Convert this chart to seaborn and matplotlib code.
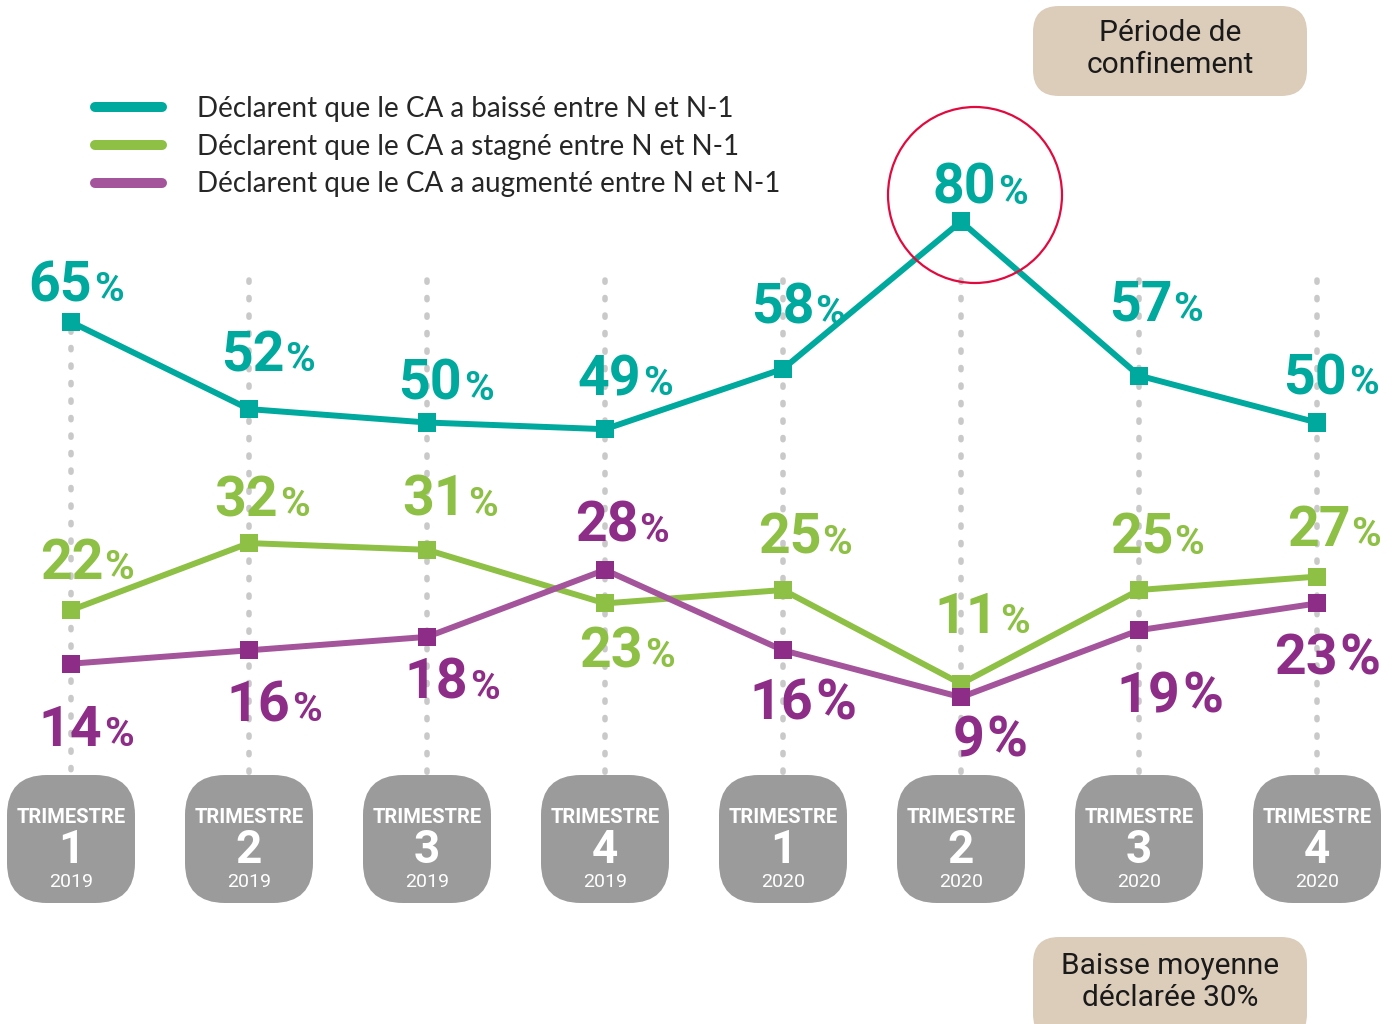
import numpy as np
import pandas as pd
import matplotlib
matplotlib.use("Agg")
import matplotlib.pyplot as plt
import seaborn as sns
from matplotlib.patches import FancyBboxPatch, Ellipse
from matplotlib.lines import Line2D
from matplotlib.offsetbox import TextArea, HPacker, AnnotationBbox

# Data
trimestres = ["1", "2", "3", "4", "1", "2", "3", "4"]
annees = ["2019", "2019", "2019", "2019", "2020", "2020", "2020", "2020"]
baisse = [65, 52, 50, 49, 58, 80, 57, 50]
stagne = [22, 32, 31, 23, 25, 11, 25, 27]
augmente = [14, 16, 18, 28, 16, 9, 19, 23]
series = ["Déclarent que le CA a baissé entre N et N-1",
          "Déclarent que le CA a stagné entre N et N-1",
          "Déclarent que le CA a augmenté entre N et N-1"]
note_haut = "Période de\nconfinement"
note_bas = "Baisse moyenne\ndéclarée 30%"

# label placement (pixels from marker: dx to label centre, dy up to baseline)
dx_baisse = [5, 19, 19, 20, 15, 19, 17, 14]
dy_baisse = [20, 37, 22, 33, 44, 17, 54, 27]
dx_stagne = [16, 13, 23, 22, 22, 21, 18, 17]
dy_stagne = [30, 26, 33, -65, 35, 50, 35, 30]
dx_augm = [15, 25, 25, 17, 20, 29, 31, 10]
dy_augm = [-83, -72, -63, 27, -70, -60, -83, -72]
big_pct_augm = [False, False, False, False, True, True, True, True]

teal = "#00A99D"
green = "#8DC044"
purple_line = "#A4549B"
purple_mark = "#8E2D87"
box_grey = "#9B9B9B"
tan = "#DCCCBA"

W, H = 1387, 1024
X0, DX = 71, 178          # pixel of first category, pixels per category
Y65, DY = 322, 6.7        # pixel of 65 %, pixels per percent


def px(x, y):
    # pixel position -> data coordinates (for layout only)
    return (x - X0) / DX, 65 - (y - Y65) / DY


sns.set_theme(style="white")
plt.rcParams['font.family'] = ['Roboto', 'DejaVu Sans']

fig = plt.figure(figsize=(W / 100, H / 100), dpi=100)
ax = fig.add_axes([0, 0, 1, 1])

df = pd.DataFrame({
    "idx": list(range(8)) * 3,
    "val": baisse + stagne + augmente,
    "serie": [s for s in series for _ in range(8)],
})

# dotted guides
for i in range(8):
    top = px(0, 330)[1] if i == 0 else px(0, 280)[1]
    ax.plot([i, i], [top, px(0, 790)[1]], color="#C9C9C9", lw=4,
            ls=(0, (0.4, 2.75)), dash_capstyle="round", zorder=1)

sns.lineplot(data=df, x="idx", y="val", hue="serie", sort=False,
             palette=dict(zip(series, [teal, green, purple_line])),
             lw=4.3, legend=False, ax=ax, zorder=3)
sns.scatterplot(data=df, x="idx", y="val", hue="serie",
                palette=dict(zip(series, [teal, green, purple_mark])),
                marker="s", s=170, linewidth=0, legend=False, ax=ax, zorder=4)


def add_label(i, val, color, dx, dy, big=False):
    num = TextArea(str(val), textprops=dict(color=color, fontsize=40, fontweight="bold"))
    pct = TextArea("%", textprops=dict(color=color, fontsize=40 if big else 29, fontweight="bold"))
    pack = HPacker(children=[num, pct], align="baseline", pad=0, sep=1)
    ab = AnnotationBbox(pack, (i, val), xybox=(dx * 0.72, (dy - 10) * 0.72),
                        xycoords="data", boxcoords="offset points",
                        box_alignment=(0.5, 0), frameon=False, pad=0, zorder=5)
    ax.add_artist(ab)


for i in range(8):
    add_label(i, baisse[i], teal, dx_baisse[i], dy_baisse[i])
    add_label(i, stagne[i], green, dx_stagne[i], dy_stagne[i])
    add_label(i, augmente[i], purple_mark, dx_augm[i], dy_augm[i], big_pct_augm[i])

# circle around the lockdown peak
ax.add_patch(Ellipse((5 + 14 / DX, baisse[5] + 26.5 / DY), 174 / DX, 176 / DY,
                     fill=False, ec="#E2093E", lw=1.6, zorder=6))

# quarter boxes
asp = DX / DY
bw, bh = 128 / DX, 128 / DY
ybot = px(0, 903)[1]
for i in range(8):
    ax.add_patch(FancyBboxPatch((i - bw / 2, ybot), bw, bh,
                                boxstyle="round,pad=0,rounding_size=%f" % (40 / DX),
                                mutation_aspect=asp, fc=box_grey, ec="none", zorder=2))
    ax.text(i, px(0, 823)[1], "TRIMESTRE", ha="center", va="baseline",
            color="white", fontsize=14.5, fontweight="bold", zorder=3)
    ax.text(i, px(0, 863)[1], trimestres[i], ha="center", va="baseline",
            color="white", fontsize=33, fontweight="bold", zorder=3)
    ax.text(i, px(0, 887)[1], annees[i], ha="center", va="baseline",
            color="white", fontsize=14, fontweight="normal", zorder=3)

# notes
for (x0, y0, x1, y1), txt, yc in [((1033, 6, 1307, 96), note_haut, 49),
                                   ((1033, 937, 1307, 1040), note_bas, 982)]:
    a = px(x0, y1)
    b = px(x1, y0)
    ax.add_patch(FancyBboxPatch(a, b[0] - a[0], b[1] - a[1],
                                boxstyle="round,pad=0,rounding_size=%f" % (26 / DX),
                                mutation_aspect=asp, fc=tan, ec="none", zorder=2))
    ax.text(*px((x0 + x1) / 2, yc), txt, ha="center", va="center",
            fontsize=21.5, color="#1A1A1A", linespacing=1.15, zorder=3)

# legend
handles = [Line2D([], [], color=c, lw=7.2, solid_capstyle="round")
           for c in [teal, green, purple_line]]
ax.legend(handles, series, loc="upper left",
          bbox_to_anchor=(95 / W, 1 - 96 / H), bbox_transform=fig.transFigure,
          frameon=False, prop=dict(family="Lato", size=20),
          handlelength=2.41, handletextpad=1.26, labelspacing=0.42,
          borderpad=0, borderaxespad=0)

ax.set_xlim(px(0, 0)[0], px(W, 0)[0])
ax.set_ylim(px(0, H)[1], px(0, 0)[1])
ax.axis("off")

fig.savefig("out.png", dpi=100)
